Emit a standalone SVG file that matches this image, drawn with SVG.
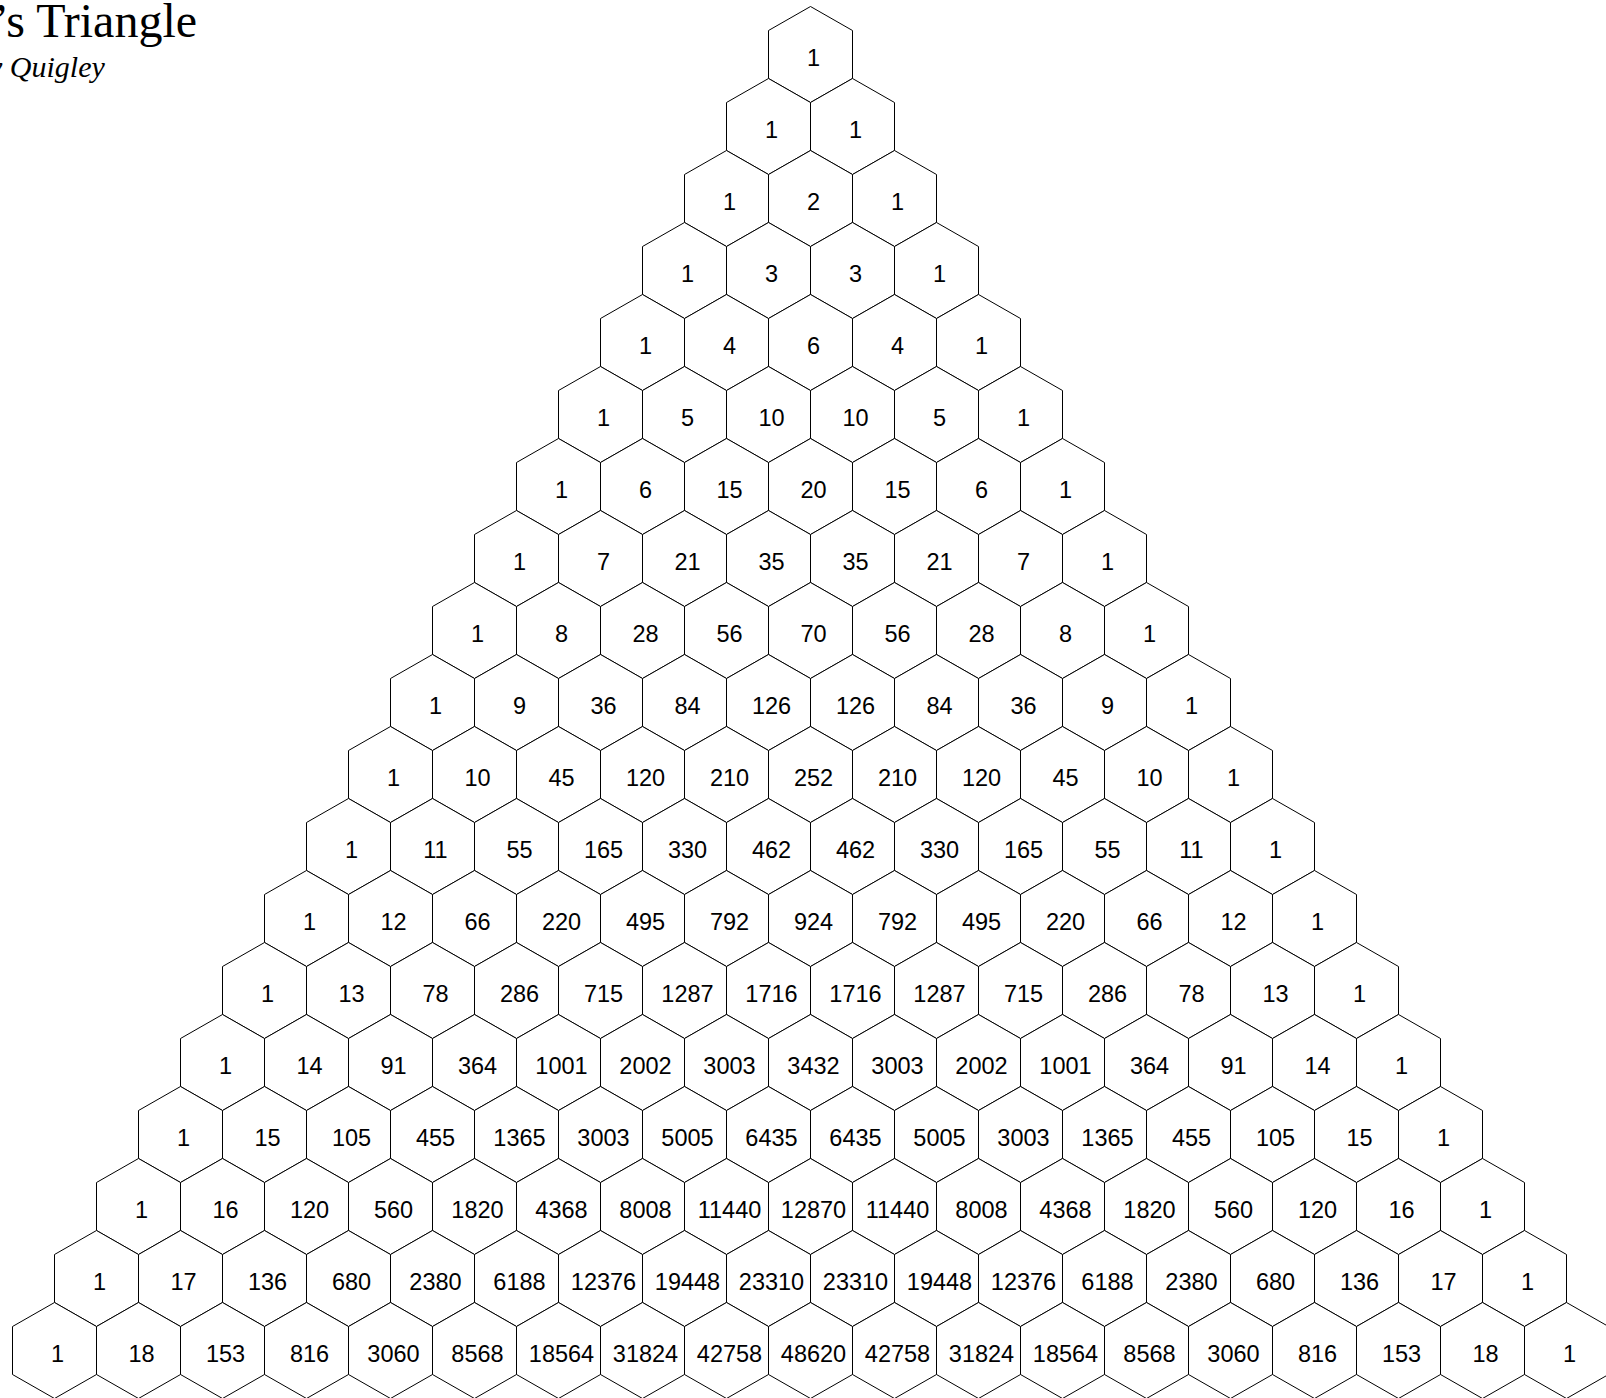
<svg xmlns="http://www.w3.org/2000/svg" xmlns:xlink="http://www.w3.org/1999/xlink" width="1606" height="1398" viewBox="0 0 1606 1398">
<style>
.hex{fill:#fff;stroke:#000;stroke-width:1}
.n text{font-family:"Liberation Sans",Arial,sans-serif;font-size:23.5px;text-anchor:middle;fill:#000}
.title{font-family:"Liberation Serif","Times New Roman",serif;font-size:48px;fill:#000}
.sub{font-family:"Liberation Serif","Times New Roman",serif;font-size:30px;font-style:italic;fill:#000}
</style>
<defs>
<polygon id="hex" class="hex" points="0,-48 42,-24 42,24 0,48 -42,24 -42,-24"/>
</defs>
<rect width="1606" height="1398" fill="#fff"/>
<g id="header">
<text class="title" x="-7" y="37">’s Triangle</text>
<text class="sub" x="-11" y="77">y Quigley</text>
</g>
<g id="connectors"/>
<g id="nodes" class="n">
<g id="r0c0" transform="translate(810.5 54.5)"><use href="#hex"/><text x="3" y="11">1</text></g>
<g id="r1c0" transform="translate(768.5 126.5)"><use href="#hex"/><text x="3" y="11">1</text></g>
<g id="r1c1" transform="translate(852.5 126.5)"><use href="#hex"/><text x="3" y="11">1</text></g>
<g id="r2c0" transform="translate(726.5 198.5)"><use href="#hex"/><text x="3" y="11">1</text></g>
<g id="r2c1" transform="translate(810.5 198.5)"><use href="#hex"/><text x="3" y="11">2</text></g>
<g id="r2c2" transform="translate(894.5 198.5)"><use href="#hex"/><text x="3" y="11">1</text></g>
<g id="r3c0" transform="translate(684.5 270.5)"><use href="#hex"/><text x="3" y="11">1</text></g>
<g id="r3c1" transform="translate(768.5 270.5)"><use href="#hex"/><text x="3" y="11">3</text></g>
<g id="r3c2" transform="translate(852.5 270.5)"><use href="#hex"/><text x="3" y="11">3</text></g>
<g id="r3c3" transform="translate(936.5 270.5)"><use href="#hex"/><text x="3" y="11">1</text></g>
<g id="r4c0" transform="translate(642.5 342.5)"><use href="#hex"/><text x="3" y="11">1</text></g>
<g id="r4c1" transform="translate(726.5 342.5)"><use href="#hex"/><text x="3" y="11">4</text></g>
<g id="r4c2" transform="translate(810.5 342.5)"><use href="#hex"/><text x="3" y="11">6</text></g>
<g id="r4c3" transform="translate(894.5 342.5)"><use href="#hex"/><text x="3" y="11">4</text></g>
<g id="r4c4" transform="translate(978.5 342.5)"><use href="#hex"/><text x="3" y="11">1</text></g>
<g id="r5c0" transform="translate(600.5 414.5)"><use href="#hex"/><text x="3" y="11">1</text></g>
<g id="r5c1" transform="translate(684.5 414.5)"><use href="#hex"/><text x="3" y="11">5</text></g>
<g id="r5c2" transform="translate(768.5 414.5)"><use href="#hex"/><text x="3" y="11">10</text></g>
<g id="r5c3" transform="translate(852.5 414.5)"><use href="#hex"/><text x="3" y="11">10</text></g>
<g id="r5c4" transform="translate(936.5 414.5)"><use href="#hex"/><text x="3" y="11">5</text></g>
<g id="r5c5" transform="translate(1020.5 414.5)"><use href="#hex"/><text x="3" y="11">1</text></g>
<g id="r6c0" transform="translate(558.5 486.5)"><use href="#hex"/><text x="3" y="11">1</text></g>
<g id="r6c1" transform="translate(642.5 486.5)"><use href="#hex"/><text x="3" y="11">6</text></g>
<g id="r6c2" transform="translate(726.5 486.5)"><use href="#hex"/><text x="3" y="11">15</text></g>
<g id="r6c3" transform="translate(810.5 486.5)"><use href="#hex"/><text x="3" y="11">20</text></g>
<g id="r6c4" transform="translate(894.5 486.5)"><use href="#hex"/><text x="3" y="11">15</text></g>
<g id="r6c5" transform="translate(978.5 486.5)"><use href="#hex"/><text x="3" y="11">6</text></g>
<g id="r6c6" transform="translate(1062.5 486.5)"><use href="#hex"/><text x="3" y="11">1</text></g>
<g id="r7c0" transform="translate(516.5 558.5)"><use href="#hex"/><text x="3" y="11">1</text></g>
<g id="r7c1" transform="translate(600.5 558.5)"><use href="#hex"/><text x="3" y="11">7</text></g>
<g id="r7c2" transform="translate(684.5 558.5)"><use href="#hex"/><text x="3" y="11">21</text></g>
<g id="r7c3" transform="translate(768.5 558.5)"><use href="#hex"/><text x="3" y="11">35</text></g>
<g id="r7c4" transform="translate(852.5 558.5)"><use href="#hex"/><text x="3" y="11">35</text></g>
<g id="r7c5" transform="translate(936.5 558.5)"><use href="#hex"/><text x="3" y="11">21</text></g>
<g id="r7c6" transform="translate(1020.5 558.5)"><use href="#hex"/><text x="3" y="11">7</text></g>
<g id="r7c7" transform="translate(1104.5 558.5)"><use href="#hex"/><text x="3" y="11">1</text></g>
<g id="r8c0" transform="translate(474.5 630.5)"><use href="#hex"/><text x="3" y="11">1</text></g>
<g id="r8c1" transform="translate(558.5 630.5)"><use href="#hex"/><text x="3" y="11">8</text></g>
<g id="r8c2" transform="translate(642.5 630.5)"><use href="#hex"/><text x="3" y="11">28</text></g>
<g id="r8c3" transform="translate(726.5 630.5)"><use href="#hex"/><text x="3" y="11">56</text></g>
<g id="r8c4" transform="translate(810.5 630.5)"><use href="#hex"/><text x="3" y="11">70</text></g>
<g id="r8c5" transform="translate(894.5 630.5)"><use href="#hex"/><text x="3" y="11">56</text></g>
<g id="r8c6" transform="translate(978.5 630.5)"><use href="#hex"/><text x="3" y="11">28</text></g>
<g id="r8c7" transform="translate(1062.5 630.5)"><use href="#hex"/><text x="3" y="11">8</text></g>
<g id="r8c8" transform="translate(1146.5 630.5)"><use href="#hex"/><text x="3" y="11">1</text></g>
<g id="r9c0" transform="translate(432.5 702.5)"><use href="#hex"/><text x="3" y="11">1</text></g>
<g id="r9c1" transform="translate(516.5 702.5)"><use href="#hex"/><text x="3" y="11">9</text></g>
<g id="r9c2" transform="translate(600.5 702.5)"><use href="#hex"/><text x="3" y="11">36</text></g>
<g id="r9c3" transform="translate(684.5 702.5)"><use href="#hex"/><text x="3" y="11">84</text></g>
<g id="r9c4" transform="translate(768.5 702.5)"><use href="#hex"/><text x="3" y="11">126</text></g>
<g id="r9c5" transform="translate(852.5 702.5)"><use href="#hex"/><text x="3" y="11">126</text></g>
<g id="r9c6" transform="translate(936.5 702.5)"><use href="#hex"/><text x="3" y="11">84</text></g>
<g id="r9c7" transform="translate(1020.5 702.5)"><use href="#hex"/><text x="3" y="11">36</text></g>
<g id="r9c8" transform="translate(1104.5 702.5)"><use href="#hex"/><text x="3" y="11">9</text></g>
<g id="r9c9" transform="translate(1188.5 702.5)"><use href="#hex"/><text x="3" y="11">1</text></g>
<g id="r10c0" transform="translate(390.5 774.5)"><use href="#hex"/><text x="3" y="11">1</text></g>
<g id="r10c1" transform="translate(474.5 774.5)"><use href="#hex"/><text x="3" y="11">10</text></g>
<g id="r10c2" transform="translate(558.5 774.5)"><use href="#hex"/><text x="3" y="11">45</text></g>
<g id="r10c3" transform="translate(642.5 774.5)"><use href="#hex"/><text x="3" y="11">120</text></g>
<g id="r10c4" transform="translate(726.5 774.5)"><use href="#hex"/><text x="3" y="11">210</text></g>
<g id="r10c5" transform="translate(810.5 774.5)"><use href="#hex"/><text x="3" y="11">252</text></g>
<g id="r10c6" transform="translate(894.5 774.5)"><use href="#hex"/><text x="3" y="11">210</text></g>
<g id="r10c7" transform="translate(978.5 774.5)"><use href="#hex"/><text x="3" y="11">120</text></g>
<g id="r10c8" transform="translate(1062.5 774.5)"><use href="#hex"/><text x="3" y="11">45</text></g>
<g id="r10c9" transform="translate(1146.5 774.5)"><use href="#hex"/><text x="3" y="11">10</text></g>
<g id="r10c10" transform="translate(1230.5 774.5)"><use href="#hex"/><text x="3" y="11">1</text></g>
<g id="r11c0" transform="translate(348.5 846.5)"><use href="#hex"/><text x="3" y="11">1</text></g>
<g id="r11c1" transform="translate(432.5 846.5)"><use href="#hex"/><text x="3" y="11">11</text></g>
<g id="r11c2" transform="translate(516.5 846.5)"><use href="#hex"/><text x="3" y="11">55</text></g>
<g id="r11c3" transform="translate(600.5 846.5)"><use href="#hex"/><text x="3" y="11">165</text></g>
<g id="r11c4" transform="translate(684.5 846.5)"><use href="#hex"/><text x="3" y="11">330</text></g>
<g id="r11c5" transform="translate(768.5 846.5)"><use href="#hex"/><text x="3" y="11">462</text></g>
<g id="r11c6" transform="translate(852.5 846.5)"><use href="#hex"/><text x="3" y="11">462</text></g>
<g id="r11c7" transform="translate(936.5 846.5)"><use href="#hex"/><text x="3" y="11">330</text></g>
<g id="r11c8" transform="translate(1020.5 846.5)"><use href="#hex"/><text x="3" y="11">165</text></g>
<g id="r11c9" transform="translate(1104.5 846.5)"><use href="#hex"/><text x="3" y="11">55</text></g>
<g id="r11c10" transform="translate(1188.5 846.5)"><use href="#hex"/><text x="3" y="11">11</text></g>
<g id="r11c11" transform="translate(1272.5 846.5)"><use href="#hex"/><text x="3" y="11">1</text></g>
<g id="r12c0" transform="translate(306.5 918.5)"><use href="#hex"/><text x="3" y="11">1</text></g>
<g id="r12c1" transform="translate(390.5 918.5)"><use href="#hex"/><text x="3" y="11">12</text></g>
<g id="r12c2" transform="translate(474.5 918.5)"><use href="#hex"/><text x="3" y="11">66</text></g>
<g id="r12c3" transform="translate(558.5 918.5)"><use href="#hex"/><text x="3" y="11">220</text></g>
<g id="r12c4" transform="translate(642.5 918.5)"><use href="#hex"/><text x="3" y="11">495</text></g>
<g id="r12c5" transform="translate(726.5 918.5)"><use href="#hex"/><text x="3" y="11">792</text></g>
<g id="r12c6" transform="translate(810.5 918.5)"><use href="#hex"/><text x="3" y="11">924</text></g>
<g id="r12c7" transform="translate(894.5 918.5)"><use href="#hex"/><text x="3" y="11">792</text></g>
<g id="r12c8" transform="translate(978.5 918.5)"><use href="#hex"/><text x="3" y="11">495</text></g>
<g id="r12c9" transform="translate(1062.5 918.5)"><use href="#hex"/><text x="3" y="11">220</text></g>
<g id="r12c10" transform="translate(1146.5 918.5)"><use href="#hex"/><text x="3" y="11">66</text></g>
<g id="r12c11" transform="translate(1230.5 918.5)"><use href="#hex"/><text x="3" y="11">12</text></g>
<g id="r12c12" transform="translate(1314.5 918.5)"><use href="#hex"/><text x="3" y="11">1</text></g>
<g id="r13c0" transform="translate(264.5 990.5)"><use href="#hex"/><text x="3" y="11">1</text></g>
<g id="r13c1" transform="translate(348.5 990.5)"><use href="#hex"/><text x="3" y="11">13</text></g>
<g id="r13c2" transform="translate(432.5 990.5)"><use href="#hex"/><text x="3" y="11">78</text></g>
<g id="r13c3" transform="translate(516.5 990.5)"><use href="#hex"/><text x="3" y="11">286</text></g>
<g id="r13c4" transform="translate(600.5 990.5)"><use href="#hex"/><text x="3" y="11">715</text></g>
<g id="r13c5" transform="translate(684.5 990.5)"><use href="#hex"/><text x="3" y="11">1287</text></g>
<g id="r13c6" transform="translate(768.5 990.5)"><use href="#hex"/><text x="3" y="11">1716</text></g>
<g id="r13c7" transform="translate(852.5 990.5)"><use href="#hex"/><text x="3" y="11">1716</text></g>
<g id="r13c8" transform="translate(936.5 990.5)"><use href="#hex"/><text x="3" y="11">1287</text></g>
<g id="r13c9" transform="translate(1020.5 990.5)"><use href="#hex"/><text x="3" y="11">715</text></g>
<g id="r13c10" transform="translate(1104.5 990.5)"><use href="#hex"/><text x="3" y="11">286</text></g>
<g id="r13c11" transform="translate(1188.5 990.5)"><use href="#hex"/><text x="3" y="11">78</text></g>
<g id="r13c12" transform="translate(1272.5 990.5)"><use href="#hex"/><text x="3" y="11">13</text></g>
<g id="r13c13" transform="translate(1356.5 990.5)"><use href="#hex"/><text x="3" y="11">1</text></g>
<g id="r14c0" transform="translate(222.5 1062.5)"><use href="#hex"/><text x="3" y="11">1</text></g>
<g id="r14c1" transform="translate(306.5 1062.5)"><use href="#hex"/><text x="3" y="11">14</text></g>
<g id="r14c2" transform="translate(390.5 1062.5)"><use href="#hex"/><text x="3" y="11">91</text></g>
<g id="r14c3" transform="translate(474.5 1062.5)"><use href="#hex"/><text x="3" y="11">364</text></g>
<g id="r14c4" transform="translate(558.5 1062.5)"><use href="#hex"/><text x="3" y="11">1001</text></g>
<g id="r14c5" transform="translate(642.5 1062.5)"><use href="#hex"/><text x="3" y="11">2002</text></g>
<g id="r14c6" transform="translate(726.5 1062.5)"><use href="#hex"/><text x="3" y="11">3003</text></g>
<g id="r14c7" transform="translate(810.5 1062.5)"><use href="#hex"/><text x="3" y="11">3432</text></g>
<g id="r14c8" transform="translate(894.5 1062.5)"><use href="#hex"/><text x="3" y="11">3003</text></g>
<g id="r14c9" transform="translate(978.5 1062.5)"><use href="#hex"/><text x="3" y="11">2002</text></g>
<g id="r14c10" transform="translate(1062.5 1062.5)"><use href="#hex"/><text x="3" y="11">1001</text></g>
<g id="r14c11" transform="translate(1146.5 1062.5)"><use href="#hex"/><text x="3" y="11">364</text></g>
<g id="r14c12" transform="translate(1230.5 1062.5)"><use href="#hex"/><text x="3" y="11">91</text></g>
<g id="r14c13" transform="translate(1314.5 1062.5)"><use href="#hex"/><text x="3" y="11">14</text></g>
<g id="r14c14" transform="translate(1398.5 1062.5)"><use href="#hex"/><text x="3" y="11">1</text></g>
<g id="r15c0" transform="translate(180.5 1134.5)"><use href="#hex"/><text x="3" y="11">1</text></g>
<g id="r15c1" transform="translate(264.5 1134.5)"><use href="#hex"/><text x="3" y="11">15</text></g>
<g id="r15c2" transform="translate(348.5 1134.5)"><use href="#hex"/><text x="3" y="11">105</text></g>
<g id="r15c3" transform="translate(432.5 1134.5)"><use href="#hex"/><text x="3" y="11">455</text></g>
<g id="r15c4" transform="translate(516.5 1134.5)"><use href="#hex"/><text x="3" y="11">1365</text></g>
<g id="r15c5" transform="translate(600.5 1134.5)"><use href="#hex"/><text x="3" y="11">3003</text></g>
<g id="r15c6" transform="translate(684.5 1134.5)"><use href="#hex"/><text x="3" y="11">5005</text></g>
<g id="r15c7" transform="translate(768.5 1134.5)"><use href="#hex"/><text x="3" y="11">6435</text></g>
<g id="r15c8" transform="translate(852.5 1134.5)"><use href="#hex"/><text x="3" y="11">6435</text></g>
<g id="r15c9" transform="translate(936.5 1134.5)"><use href="#hex"/><text x="3" y="11">5005</text></g>
<g id="r15c10" transform="translate(1020.5 1134.5)"><use href="#hex"/><text x="3" y="11">3003</text></g>
<g id="r15c11" transform="translate(1104.5 1134.5)"><use href="#hex"/><text x="3" y="11">1365</text></g>
<g id="r15c12" transform="translate(1188.5 1134.5)"><use href="#hex"/><text x="3" y="11">455</text></g>
<g id="r15c13" transform="translate(1272.5 1134.5)"><use href="#hex"/><text x="3" y="11">105</text></g>
<g id="r15c14" transform="translate(1356.5 1134.5)"><use href="#hex"/><text x="3" y="11">15</text></g>
<g id="r15c15" transform="translate(1440.5 1134.5)"><use href="#hex"/><text x="3" y="11">1</text></g>
<g id="r16c0" transform="translate(138.5 1206.5)"><use href="#hex"/><text x="3" y="11">1</text></g>
<g id="r16c1" transform="translate(222.5 1206.5)"><use href="#hex"/><text x="3" y="11">16</text></g>
<g id="r16c2" transform="translate(306.5 1206.5)"><use href="#hex"/><text x="3" y="11">120</text></g>
<g id="r16c3" transform="translate(390.5 1206.5)"><use href="#hex"/><text x="3" y="11">560</text></g>
<g id="r16c4" transform="translate(474.5 1206.5)"><use href="#hex"/><text x="3" y="11">1820</text></g>
<g id="r16c5" transform="translate(558.5 1206.5)"><use href="#hex"/><text x="3" y="11">4368</text></g>
<g id="r16c6" transform="translate(642.5 1206.5)"><use href="#hex"/><text x="3" y="11">8008</text></g>
<g id="r16c7" transform="translate(726.5 1206.5)"><use href="#hex"/><text x="3" y="11">11440</text></g>
<g id="r16c8" transform="translate(810.5 1206.5)"><use href="#hex"/><text x="3" y="11">12870</text></g>
<g id="r16c9" transform="translate(894.5 1206.5)"><use href="#hex"/><text x="3" y="11">11440</text></g>
<g id="r16c10" transform="translate(978.5 1206.5)"><use href="#hex"/><text x="3" y="11">8008</text></g>
<g id="r16c11" transform="translate(1062.5 1206.5)"><use href="#hex"/><text x="3" y="11">4368</text></g>
<g id="r16c12" transform="translate(1146.5 1206.5)"><use href="#hex"/><text x="3" y="11">1820</text></g>
<g id="r16c13" transform="translate(1230.5 1206.5)"><use href="#hex"/><text x="3" y="11">560</text></g>
<g id="r16c14" transform="translate(1314.5 1206.5)"><use href="#hex"/><text x="3" y="11">120</text></g>
<g id="r16c15" transform="translate(1398.5 1206.5)"><use href="#hex"/><text x="3" y="11">16</text></g>
<g id="r16c16" transform="translate(1482.5 1206.5)"><use href="#hex"/><text x="3" y="11">1</text></g>
<g id="r17c0" transform="translate(96.5 1278.5)"><use href="#hex"/><text x="3" y="11">1</text></g>
<g id="r17c1" transform="translate(180.5 1278.5)"><use href="#hex"/><text x="3" y="11">17</text></g>
<g id="r17c2" transform="translate(264.5 1278.5)"><use href="#hex"/><text x="3" y="11">136</text></g>
<g id="r17c3" transform="translate(348.5 1278.5)"><use href="#hex"/><text x="3" y="11">680</text></g>
<g id="r17c4" transform="translate(432.5 1278.5)"><use href="#hex"/><text x="3" y="11">2380</text></g>
<g id="r17c5" transform="translate(516.5 1278.5)"><use href="#hex"/><text x="3" y="11">6188</text></g>
<g id="r17c6" transform="translate(600.5 1278.5)"><use href="#hex"/><text x="3" y="11">12376</text></g>
<g id="r17c7" transform="translate(684.5 1278.5)"><use href="#hex"/><text x="3" y="11">19448</text></g>
<g id="r17c8" transform="translate(768.5 1278.5)"><use href="#hex"/><text x="3" y="11">23310</text></g>
<g id="r17c9" transform="translate(852.5 1278.5)"><use href="#hex"/><text x="3" y="11">23310</text></g>
<g id="r17c10" transform="translate(936.5 1278.5)"><use href="#hex"/><text x="3" y="11">19448</text></g>
<g id="r17c11" transform="translate(1020.5 1278.5)"><use href="#hex"/><text x="3" y="11">12376</text></g>
<g id="r17c12" transform="translate(1104.5 1278.5)"><use href="#hex"/><text x="3" y="11">6188</text></g>
<g id="r17c13" transform="translate(1188.5 1278.5)"><use href="#hex"/><text x="3" y="11">2380</text></g>
<g id="r17c14" transform="translate(1272.5 1278.5)"><use href="#hex"/><text x="3" y="11">680</text></g>
<g id="r17c15" transform="translate(1356.5 1278.5)"><use href="#hex"/><text x="3" y="11">136</text></g>
<g id="r17c16" transform="translate(1440.5 1278.5)"><use href="#hex"/><text x="3" y="11">17</text></g>
<g id="r17c17" transform="translate(1524.5 1278.5)"><use href="#hex"/><text x="3" y="11">1</text></g>
<g id="r18c0" transform="translate(54.5 1350.5)"><use href="#hex"/><text x="3" y="11">1</text></g>
<g id="r18c1" transform="translate(138.5 1350.5)"><use href="#hex"/><text x="3" y="11">18</text></g>
<g id="r18c2" transform="translate(222.5 1350.5)"><use href="#hex"/><text x="3" y="11">153</text></g>
<g id="r18c3" transform="translate(306.5 1350.5)"><use href="#hex"/><text x="3" y="11">816</text></g>
<g id="r18c4" transform="translate(390.5 1350.5)"><use href="#hex"/><text x="3" y="11">3060</text></g>
<g id="r18c5" transform="translate(474.5 1350.5)"><use href="#hex"/><text x="3" y="11">8568</text></g>
<g id="r18c6" transform="translate(558.5 1350.5)"><use href="#hex"/><text x="3" y="11">18564</text></g>
<g id="r18c7" transform="translate(642.5 1350.5)"><use href="#hex"/><text x="3" y="11">31824</text></g>
<g id="r18c8" transform="translate(726.5 1350.5)"><use href="#hex"/><text x="3" y="11">42758</text></g>
<g id="r18c9" transform="translate(810.5 1350.5)"><use href="#hex"/><text x="3" y="11">48620</text></g>
<g id="r18c10" transform="translate(894.5 1350.5)"><use href="#hex"/><text x="3" y="11">42758</text></g>
<g id="r18c11" transform="translate(978.5 1350.5)"><use href="#hex"/><text x="3" y="11">31824</text></g>
<g id="r18c12" transform="translate(1062.5 1350.5)"><use href="#hex"/><text x="3" y="11">18564</text></g>
<g id="r18c13" transform="translate(1146.5 1350.5)"><use href="#hex"/><text x="3" y="11">8568</text></g>
<g id="r18c14" transform="translate(1230.5 1350.5)"><use href="#hex"/><text x="3" y="11">3060</text></g>
<g id="r18c15" transform="translate(1314.5 1350.5)"><use href="#hex"/><text x="3" y="11">816</text></g>
<g id="r18c16" transform="translate(1398.5 1350.5)"><use href="#hex"/><text x="3" y="11">153</text></g>
<g id="r18c17" transform="translate(1482.5 1350.5)"><use href="#hex"/><text x="3" y="11">18</text></g>
<g id="r18c18" transform="translate(1566.5 1350.5)"><use href="#hex"/><text x="3" y="11">1</text></g>
</g>
</svg>
